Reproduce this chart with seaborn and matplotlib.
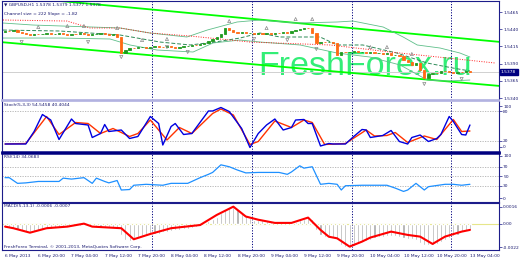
import matplotlib
matplotlib.use("Agg")
import matplotlib.pyplot as plt
import matplotlib.transforms as mtransforms
from matplotlib.ticker import FormatStrFormatter
import seaborn as sns

# ------------------------------------------------------------------ data
closes = [1.54374, 1.54370, 1.54388, 1.54359, 1.54345, 1.54330, 1.54316, 1.54330, 1.54325, 1.54330,
          1.54345, 1.54330, 1.54335, 1.54345, 1.54330, 1.54316, 1.54330, 1.54326, 1.54345, 1.54330,
          1.54316, 1.54330, 1.54334, 1.54345, 1.54330, 1.54316, 1.54330, 1.54287, 1.54054, 1.54098,
          1.54127, 1.54122, 1.54141, 1.54145, 1.54127, 1.54141, 1.54156, 1.54141, 1.54137, 1.54156,
          1.54141, 1.54127, 1.54141, 1.54156, 1.54160, 1.54171, 1.54168, 1.54185, 1.54200, 1.54229,
          1.54258, 1.54287, 1.54330, 1.54418, 1.54388, 1.54359, 1.54345, 1.54359, 1.54345, 1.54349,
          1.54330, 1.54345, 1.54330, 1.54345, 1.54330, 1.54345, 1.54340, 1.54359, 1.54345, 1.54374,
          1.54388, 1.54403, 1.54418, 1.54414, 1.54345, 1.54200, 1.54214, 1.54210, 1.54214, 1.54200,
          1.54025, 1.54069, 1.54065, 1.54069, 1.54083, 1.54069, 1.54073, 1.54054, 1.54069, 1.54054,
          1.54058, 1.54040, 1.54054, 1.54025, 1.54030, 1.54011, 1.53953, 1.53924, 1.53880, 1.53909,
          1.53807, 1.53691, 1.53749, 1.53764, 1.53760, 1.53793, 1.53789, 1.53778, 1.53764, 1.53778,
          1.53774, 1.53793, 1.53778]
first_open = 1.54365
price_now = 1.53778
price_ticks = [1.5465, 1.5440, 1.5415, 1.5390, 1.5365, 1.5340]

channel_upper_x = [-1.0, 119.5]
channel_upper_y = [1.54890, 1.54214]
channel_lower_x = [-1.0, 119.5]
channel_lower_y = [1.54213, 1.53574]

band_up_x = [-0.5, 6.7, 27.7, 34.9, 43.8, 48.7, 55.9, 61.4, 70.3, 80.0, 83.8, 91.1, 95.9, 99.3, 104.8, 109.6, 112]
band_up_y = [1.54490, 1.54461, 1.54418, 1.54345, 1.54287, 1.54388, 1.54505, 1.54534, 1.54490, 1.54505,
             1.54519, 1.54432, 1.54287, 1.54171, 1.54127, 1.54054, 1.53996]
band_mid_x = [-0.5, 13.2, 27.7, 37.3, 44.6, 50.6, 56.6, 61.4, 66.2, 75.9, 80.0, 86.2, 94.4, 101.7, 107.9, 112]
band_mid_y = [1.54388, 1.54374, 1.54316, 1.54214, 1.54171, 1.54214, 1.54272, 1.54345, 1.54287, 1.54287,
              1.54171, 1.54171, 1.54054, 1.53909, 1.53836, 1.53793]
band_lo_x = [-0.5, 13.2, 25.3, 30.1, 36.6, 45.3, 50.1, 56.6, 61.4, 71.1, 80.0, 87.9, 95.2, 101.7, 106.5, 112]
band_lo_y = [1.54272, 1.54272, 1.54258, 1.54171, 1.54098, 1.54069, 1.54200, 1.54243, 1.54214, 1.54171,
             1.54054, 1.53996, 1.53880, 1.53662, 1.53647, 1.53662]
ma_x = [-0.5, 14.9, 20.5, 27.7, 34.9, 44.6, 59.0, 78.3, 92.8, 118.1]
ma_y = [1.54534, 1.54519, 1.54418, 1.54418, 1.54345, 1.54301, 1.54214, 1.54171, 1.54069, 1.53909]

frac_up_x = [8, 15, 19, 27, 33, 39, 54, 63, 70, 74, 88, 92, 98]
frac_up_y = [1.54432, 1.54447, 1.54447, 1.54418, 1.54243, 1.54258, 1.54519, 1.54418, 1.54548, 1.54548,
             1.54141, 1.54141, 1.54040]
frac_dn_x = [4, 20, 28, 39, 44, 60, 68, 75, 101, 110]
frac_dn_y = [1.54214, 1.54214, 1.53996, 1.54141, 1.54069, 1.54258, 1.54243, 1.54112, 1.53604, 1.53677]

stoch_k_bar = [0, 5, 7, 9, 11, 13, 16, 17, 20, 21, 23, 24, 25, 28, 30, 32, 35, 37, 38, 40,
               41, 43, 45, 49, 50, 52, 54, 57, 59, 61, 63, 65, 67, 69, 70, 72, 73, 74, 76, 78,
               79, 82, 84, 86, 87, 88, 91, 93, 95, 97, 98, 100, 102, 104, 105, 107, 108, 110, 111, 112]
stoch_k_val = [14, 14, 39, 73, 62, 23, 64, 55, 52, 27, 35, 53, 39, 42, 25, 29, 69, 55, 12, 49,
               55, 33, 35, 80, 80, 87, 79, 45, 7, 35, 52, 64, 42, 47, 62, 63, 55, 55, 10, 15,
               14, 14, 29, 43, 42, 27, 31, 41, 19, 14, 27, 32, 19, 25, 33, 69, 59, 33, 32, 52]
stoch_d_bar = [0, 5, 10, 13, 17, 20, 23, 26, 30, 32, 35, 39, 42, 45, 50, 52, 55, 59, 61, 65,
               69, 72, 74, 77, 82, 87, 89, 92, 94, 97, 101, 104, 108, 110, 112]
stoch_d_val = [14, 15, 69, 33, 57, 55, 35, 45, 29, 35, 62, 22, 47, 35, 75, 84, 72, 13, 19, 60,
               47, 62, 57, 13, 15, 42, 30, 31, 37, 17, 30, 23, 63, 39, 40]

rsi_bar = [0, 1, 3, 5, 8, 13, 14, 16, 19, 21, 22, 24, 25, 27, 28, 30, 31, 34, 38, 40,
           44, 45, 47, 49, 50, 52, 54, 56, 58, 61, 66, 68, 69, 71, 72, 74, 76, 78, 80, 81,
           82, 86, 92, 94, 96, 97, 99, 101, 102, 106, 108, 110, 112]
rsi_val = [47, 47, 35, 36, 39, 39, 46, 44, 47, 35, 46, 39, 36, 41, 21, 22, 31, 33, 31, 35,
           35, 39, 47, 54, 58, 74, 70, 63, 57, 58, 58, 54, 59, 72, 67, 70, 33, 35, 33, 21,
           30, 31, 31, 25, 18, 21, 35, 21, 28, 33, 33, 31, 33]

macd_hist = [-0.0002, -0.0003, -0.0005, -0.0006, -0.0007, -0.0008, -0.0008, -0.0008, -0.0007, -0.0006,
             -0.0005, -0.0005, -0.0004, -0.0004, -0.0003, -0.0003, -0.0002, -0.0002, -0.0002, -0.0001,
             0.0001, -0.0001, -0.0002, -0.0003, -0.0003, -0.0003, -0.0004, -0.0005, -0.0010, -0.0015,
             -0.0016, -0.0014, -0.0012, -0.0011, -0.0010, -0.0010, -0.0009, -0.0009, -0.0008, -0.0008,
             -0.0007, -0.0006, -0.0006, -0.0005, -0.0005, -0.0004, -0.0003, -0.0002, 0.0001, 0.0003,
             0.0005, 0.0007, 0.0010, 0.0014, 0.0016, 0.0016, 0.0014, 0.0011, 0.0008, 0.0006,
             0.0004, 0.0004, 0.0004, 0.0003, 0.0002, 0.0002, 0.0001, 0.0001, 0.0001, 0.0001,
             0.0002, 0.0004, 0.0005, 0.0006, 0.0005, -0.0006, -0.0010, -0.0012, -0.0013, -0.0013,
             -0.0014, -0.0020, -0.0022, -0.0023, -0.0021, -0.0018, -0.0017, -0.0016, -0.0015, -0.0013,
             -0.0012, -0.0012, -0.0011, -0.0011, -0.0011, -0.0012, -0.0013, -0.0014, -0.0014, -0.0015,
             -0.0018, -0.0020, -0.0020, -0.0020, -0.0019, -0.0017, -0.0015, -0.0013, -0.0011, -0.0010,
             -0.0008, -0.0007, -0.0006]
macd_sig_bar = [0, 2, 6, 10, 15, 19, 21, 28, 31, 35, 40, 47, 51, 55, 58, 61, 65, 69, 73, 76,
                78, 80, 83, 86, 88, 93, 97, 100, 103, 106, 110, 112]
macd_sig_val = [-0.00025, -0.0004, -0.00082, -0.0004, -0.00025, 0.00003, -0.00025, -0.0004, -0.00144, -0.00094,
                -0.0004, -0.0001, 0.00085, 0.00163, 0.0007, 0.0004, 0.0001, 0.0001, 0.0006, -0.00056,
                -0.0012, -0.00135, -0.00213, -0.00166, -0.00128, -0.00072, -0.00103, -0.00119, -0.00188, -0.00119,
                -0.00072, -0.00056]

x_labels = ["6 May 2013", "6 May 20:00", "7 May 04:00", "7 May 12:00", "7 May 20:00",
            "8 May 04:00", "8 May 12:00", "8 May 20:00", "9 May 04:00", "9 May 12:00",
            "9 May 20:00", "10 May 04:00", "10 May 12:00", "10 May 20:00", "13 May 04:00"]
label_step = 8
day_breaks = [35.5, 59.5, 83.5, 107.5]

title_price = "\u25bc GBPUSD,H1 1.5378 1.5379 1.5377 1.5378"
title_channel = "Channel size = 222 Slope = -1.82"
title_stoch = "Stoch(5,3,3) 54.5458 40.4044"
title_rsi = "RSI(14) 34.0683"
title_macd = "MACD(5,13,1) -0.0006 -0.0007"
footer = "FreshForex Terminal, \u00a9 2001-2013, MetaQuotes Software Corp."
watermark = "FreshForex.ru"

# ------------------------------------------------------------------ style
sns.set_theme(style="white")
plt.rcParams["font.family"] = ["DejaVu Sans"]

NAVY = "#1c1c8a"
TXT = "#1a1a70"
FS = 3.2
W, H = 520, 260
fig = plt.figure(figsize=(5.2, 2.6), dpi=100)
fig.patch.set_facecolor("white")


def rect(top, bottom, left=2, right=499):
    return [left / W, 1 - bottom / H, (right - left) / W, (bottom - top) / H]


ax_p = fig.add_axes(rect(1, 99.5))
ax_s = fig.add_axes(rect(100.5, 152))
ax_r = fig.add_axes(rect(153, 201.5))
ax_m = fig.add_axes(rect(202.5, 250))
axes = [ax_p, ax_s, ax_r, ax_m]
n = len(closes)
xlim = (-0.74, 119.0)


def line(ax, xs, ys, **kw):
    sns.lineplot(x=xs, y=ys, ax=ax, sort=False, estimator=None, **kw)


for ax in axes:
    ax.set_facecolor("white")
    ax.set_xlim(*xlim)
    for s in ax.spines.values():
        s.set_color(NAVY)
        s.set_linewidth(0.8)
    ax.yaxis.tick_right()
    ax.tick_params(axis="y", which="both", direction="out", length=2, width=0.5,
                   pad=1, labelsize=FS, colors=NAVY, labelcolor=TXT)
    for b in day_breaks:
        ax.axvline(b, color="#000080", ls=(0, (1.2, 1.6)), lw=0.7, zorder=2)

# ---- price panel
opens = [first_open] + closes[:-1]
ax_p.text(0.515, 0.25, watermark, transform=ax_p.transAxes, fontsize=24.5,
          family="Liberation Sans", color="#33ee77", ha="left", va="baseline", zorder=1)
ax_p.axhline(price_now, color="#d0d0d0", lw=0.7, zorder=1.5)
line(ax_p, channel_upper_x, channel_upper_y, color="#00ff00", lw=1.3, zorder=2)
line(ax_p, channel_lower_x, channel_lower_y, color="#00ff00", lw=1.3, zorder=2)
line(ax_p, band_up_x, band_up_y, color="#5fbf8a", lw=0.6, zorder=2)
line(ax_p, band_lo_x, band_lo_y, color="#5fbf8a", lw=0.6, zorder=2)
line(ax_p, band_mid_x, band_mid_y, color="#2e8b57", lw=0.7, ls=(0, (4, 2)), zorder=2)
line(ax_p, ma_x, ma_y, color="#ff2020", lw=0.7, ls=(0, (1, 1.5)), zorder=2)
bull_c = "#1f9a1f"
bear_c = "#ff6a13"
cols = [bull_c if c >= o else bear_c for o, c in zip(opens, closes)]
bottoms = [min(o, c) for o, c in zip(opens, closes)]
heights = [abs(c - o) for o, c in zip(opens, closes)]
ax_p.bar(range(n), heights, bottom=bottoms, width=0.55, color=cols, edgecolor=cols,
         linewidth=0.6, zorder=3)
ax_p.scatter(frac_up_x, frac_up_y, marker="^", s=5, facecolors="none",
             edgecolors="#888888", linewidths=0.5, zorder=3)
ax_p.scatter(frac_dn_x, frac_dn_y, marker="v", s=5, facecolors="none",
             edgecolors="#888888", linewidths=0.5, zorder=3)
ax_p.set_ylim(1.53379, 1.54810)
ax_p.set_yticks(price_ticks)
ax_p.yaxis.set_major_formatter(FormatStrFormatter("%.4f"))
ax_p.text(0.004, 0.985, title_price, transform=ax_p.transAxes, fontsize=FS, color=TXT,
          ha="left", va="top", zorder=5)
ax_p.text(0.004, 0.885, title_channel, transform=ax_p.transAxes, fontsize=FS, color=TXT,
          ha="left", va="top", zorder=5)
tr = mtransforms.blended_transform_factory(ax_p.transAxes, ax_p.transData)
ax_p.text(1.004, price_now, "%.4f" % price_now, transform=tr, fontsize=FS, color="white",
          ha="left", va="center", zorder=6,
          bbox=dict(boxstyle="square,pad=0.3", facecolor="#000080", edgecolor="#000080"))
ax_p.spines["bottom"].set_color("#b0b0e0")
ax_p.spines["bottom"].set_linewidth(1.2)

# ---- stochastic
for lv in (80, 20):
    ax_s.axhline(lv, color="#b0b0b0", lw=0.6, ls=(0, (1.5, 1.5)), zorder=1)
line(ax_s, stoch_d_bar, stoch_d_val, color="#ff3300", lw=1.0, zorder=3)
line(ax_s, stoch_k_bar, stoch_k_val, color="#0000e0", lw=1.0, zorder=3)
ax_s.set_ylim(-2, 101)
ax_s.set_yticks([8, 20, 80, 90])
ax_s.set_yticklabels(["0", "20", "80", "100"])
ax_s.text(0.004, 0.96, title_stoch, transform=ax_s.transAxes, fontsize=FS, color=TXT,
          ha="left", va="top", zorder=5)
ax_s.spines["top"].set_color("#b0b0e0")
ax_s.spines["top"].set_linewidth(1.2)
ax_s.spines["bottom"].set_color("#000080")
ax_s.spines["bottom"].set_linewidth(1.8)

# ---- RSI
for lv in (70, 50, 30):
    ax_r.axhline(lv, color="#b0b0b0", lw=0.6, ls=(0, (1.5, 1.5)), zorder=1)
line(ax_r, rsi_bar, rsi_val, color="#1e90ff", lw=0.9, zorder=3)
ax_r.set_ylim(-3.2, 98.9)
ax_r.set_yticks([4, 30, 50, 70, 93])
ax_r.set_yticklabels(["0", "30", "50", "70", "100"])
ax_r.text(0.004, 0.96, title_rsi, transform=ax_r.transAxes, fontsize=FS, color=TXT,
          ha="left", va="top", zorder=5)
ax_r.spines["top"].set_color("#000080")
ax_r.spines["top"].set_linewidth(1.8)

# ---- MACD
ax_m.axhline(0, color="#e6e68a", lw=0.8, zorder=1)
ax_m.bar(range(n), macd_hist, width=0.5, color="#a9a9a9", zorder=2)
line(ax_m, macd_sig_bar, macd_sig_val, color="#ff0000", lw=1.5, zorder=3)
ax_m.set_ylim(-0.00245, 0.00202)
ax_m.set_yticks([-0.0022, 0.0, 0.0016])
ax_m.set_yticklabels(["-0.0022", "0.00", "0.0016"])
ax_m.text(0.004, 0.96, title_macd, transform=ax_m.transAxes, fontsize=FS, color=TXT,
          ha="left", va="top", zorder=5)
ax_m.text(0.004, 0.03, footer, transform=ax_m.transAxes, fontsize=FS, color=TXT,
          ha="left", va="bottom", zorder=5)

for ax in (ax_p, ax_s, ax_r):
    ax.set_xticks([])
    ax.set_xlabel("")
    ax.set_ylabel("")
ax_m.set_xlabel("")
ax_m.set_ylabel("")
xt = [i * label_step for i in range(len(x_labels))]
ax_m.set_xticks(xt)
ax_m.set_xticklabels(x_labels, ha="left")
ax_m.tick_params(axis="x", direction="out", length=2, width=0.5, pad=1, labelsize=FS,
                 colors=NAVY, labelcolor=TXT)
for lab in ax_m.get_xticklabels():
    lab.set_horizontalalignment("left")

fig.savefig("out.png", dpi=100, facecolor="white")
